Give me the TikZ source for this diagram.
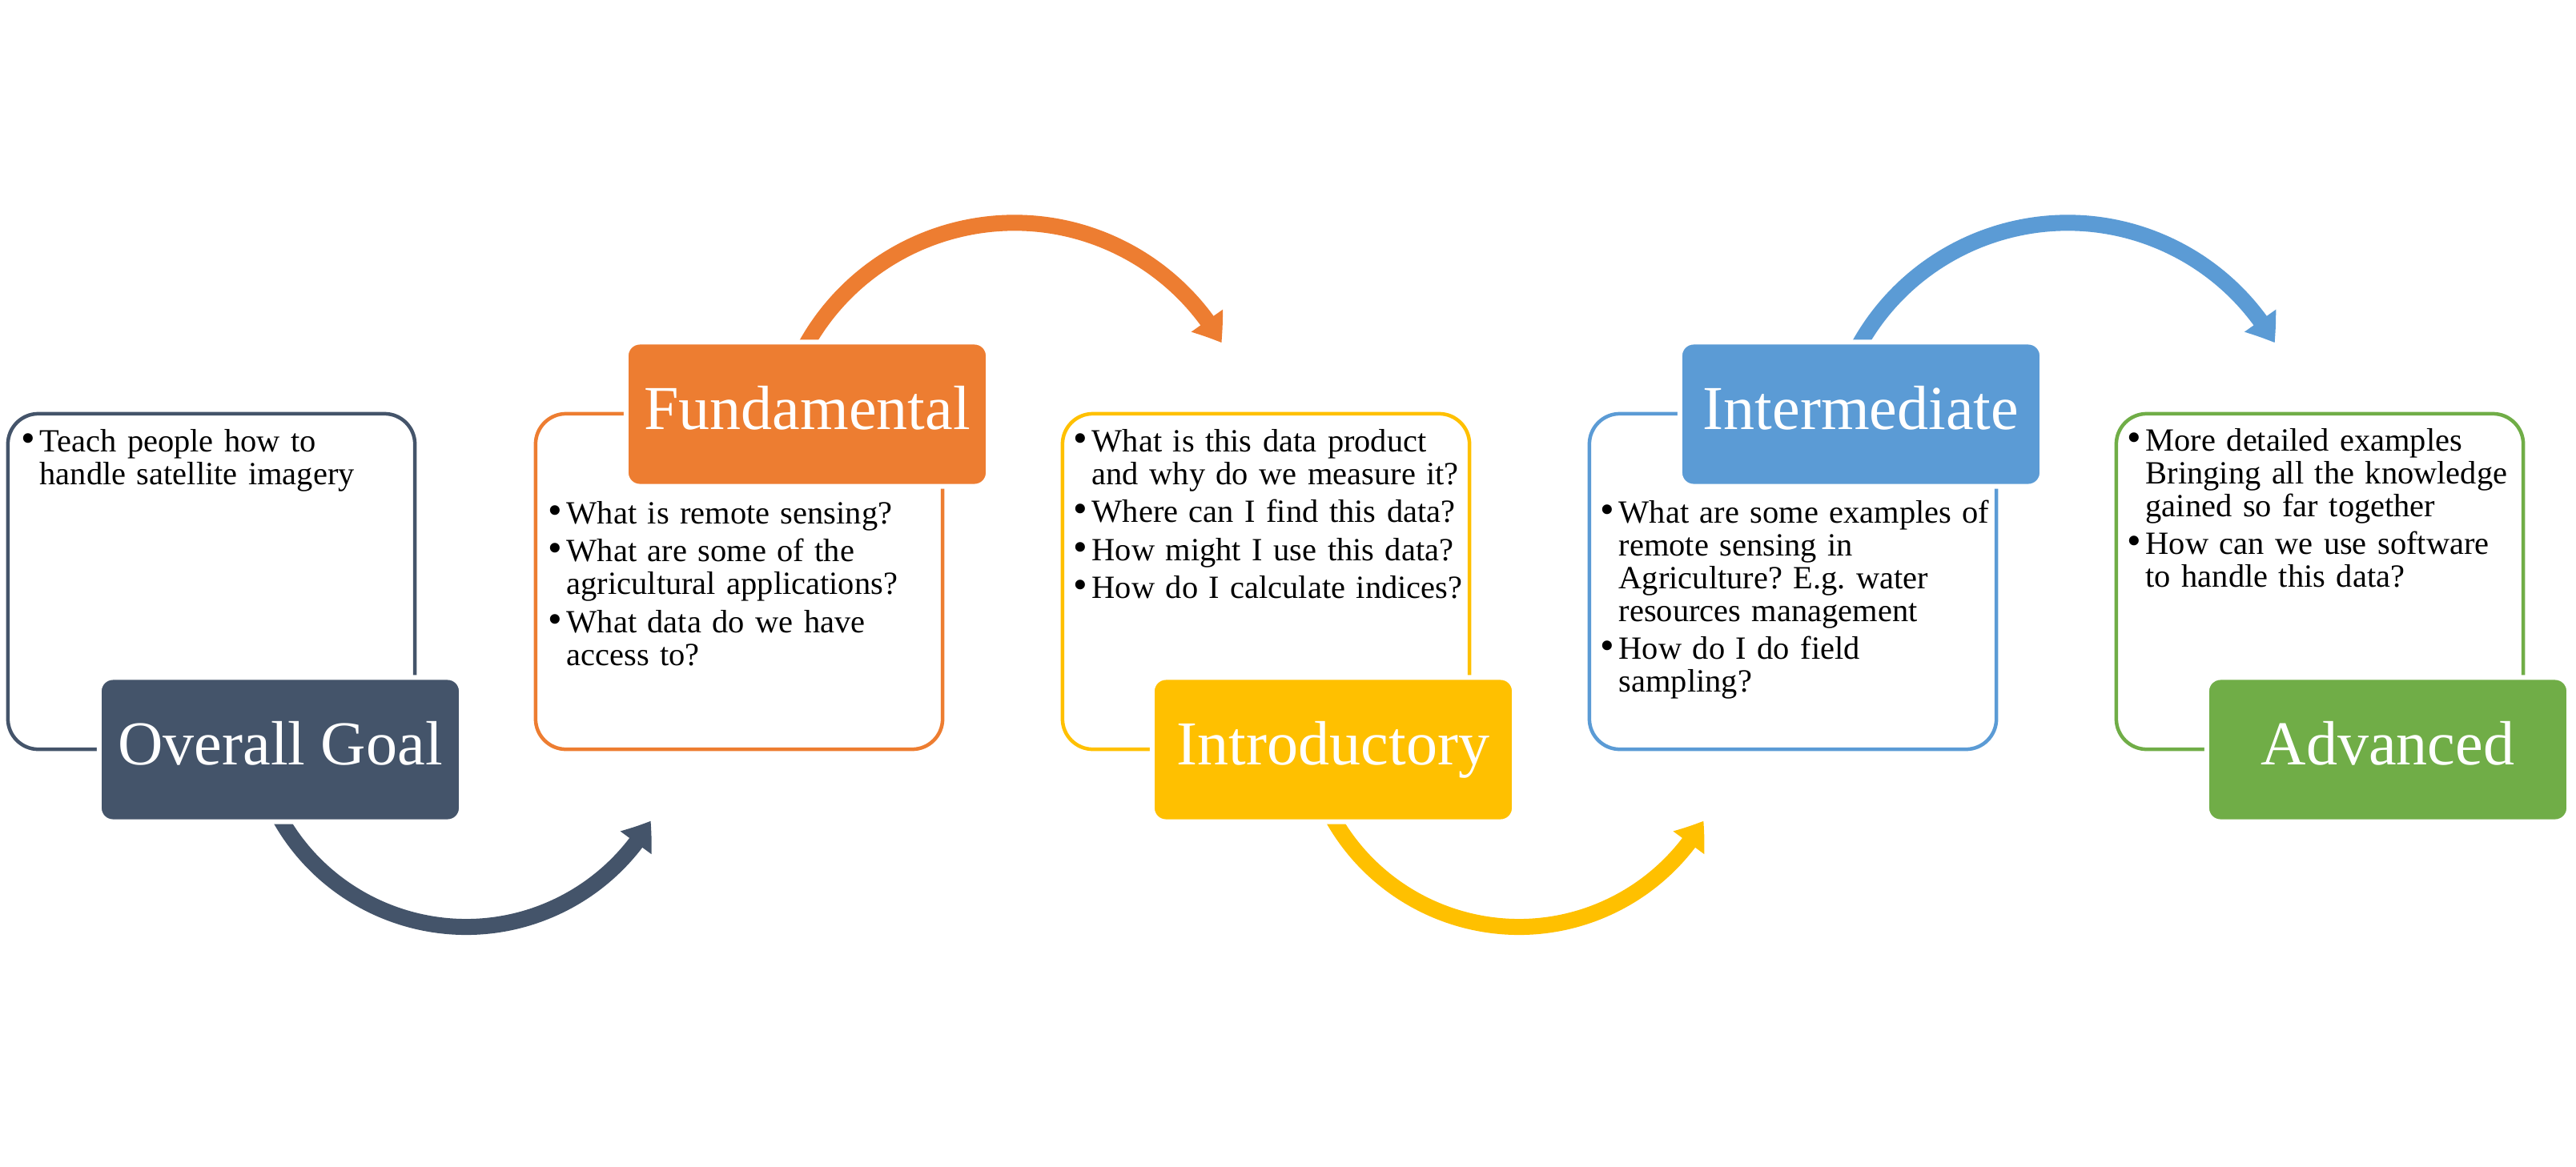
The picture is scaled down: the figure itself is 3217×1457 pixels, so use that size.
\documentclass[tikz,border=0pt]{standalone}
\usepackage{fontspec}
\setmainfont{Liberation Serif}
\usetikzlibrary{arrows.meta,bending}
\frenchspacing

\definecolor{cgoal}{HTML}{44546A}
\definecolor{cfund}{HTML}{ED7D31}
\definecolor{cintro}{HTML}{FFC000}
\definecolor{cinter}{HTML}{5B9BD5}
\definecolor{cadv}{HTML}{70AD47}

% hanging bullet at the start of a paragraph
\newcommand{\bmark}{\noindent\llap{\scalebox{1.25}{\textbullet}\hspace{1.5pt}}}
\newcommand{\bitem}{\par\bmark}

\tikzset{
  frame/.style={draw=#1, line width=0.045cm, rounded corners=0.38cm,
    minimum width=5.08cm, minimum height=4.19cm, inner sep=0pt},
  stage/.style={fill=#1, draw=white, line width=0.06cm, rounded corners=0.17cm,
    minimum width=4.52cm, minimum height=1.80cm, inner sep=0pt},
  title/.style={text=white, font=\fontsize{22.2pt}{26pt}\selectfont,
    anchor=base, inner sep=0pt},
  body/.style={anchor=base west, inner sep=0pt, text width=6cm, align=left,
    font=\fontsize{11.5pt}{11.67pt}\selectfont\setlength{\parskip}{1.85pt}},
  flow/.style={draw=#1, line width=0.2cm,
    -{Triangle[length=0.33cm, width=0.46cm, bend]}},
}

\begin{document}
\begin{tikzpicture}[x=0.01cm, y=-0.01cm]
\useasboundingbox (0,0) rectangle (3217,1457);

% outlined content panels
\node[frame=cgoal]  (fgoal)  at (264,726.5)  {};
\node[frame=cfund]  (ffund)  at (923,726.5)  {};
\node[frame=cintro] (fintro) at (1581,726.5) {};
\node[frame=cinter] (finter) at (2239,726.5) {};
\node[frame=cadv]   (fadv)   at (2897,726.5) {};

% curved connectors
\coordinate (c1) at (582,891.3);
\coordinate (c2) at (1266.8,576.4);
\coordinate (c3) at (1896.8,891.3);
\coordinate (c4) at (2582,576.4);
\draw[flow=cgoal]  (c1) ++(153:266.7) arc[start angle=153, end angle=30.2, radius=266.7];
\draw[flow=cfund]  (c2) ++(207:298)   arc[start angle=207, end angle=330.2, radius=298];
\draw[flow=cintro] (c3) ++(153:266.7) arc[start angle=153, end angle=30.2, radius=266.7];
\draw[flow=cinter] (c4) ++(207:298)   arc[start angle=207, end angle=330.2, radius=298];

% stage boxes
\node[stage=cgoal]  (goal)  at (350,936.5)  {};
\node[stage=cfund]  (fund)  at (1008,517.5) {};
\node[stage=cintro] (intro) at (1665,936.5) {};
\node[stage=cinter] (inter) at (2324,517.5) {};
\node[stage=cadv]   (adv)   at (2982,936.5) {};

\node[title] (tgoal)  at (350,955.5)  {Overall Goal};
\node[title] (tfund)  at (1008,536.5) {Fundamental};
\node[title] (tintro) at (1665,955.5) {Introductory};
\node[title] (tinter) at (2324,536.5) {Intermediate};
\node[title] (tadv)   at (2982,955.5) {Advanced};

% panel texts
\node[body] (bgoal) at (49,564) {\bmark Teach people how to\newline handle satellite imagery};
\node[body] (bfund) at (707,654) {\bmark What is remote sensing?
  \bitem What are some of the\newline agricultural applications?
  \bitem What data do we have\newline access to?};
\node[body] (bintro) at (1363,564) {\bmark What is this data product\newline and why do we measure it?
  \bitem Where can I find this data?
  \bitem How might I use this data?
  \bitem How do I calculate indices?};
\node[body] (binter) at (2021,653) {\bmark What are some examples of\newline remote sensing in\newline Agriculture? E.g. water\newline resources management
  \bitem How do I do field\newline sampling?};
\node[body] (badv) at (2679,563) {\bmark More detailed examples\newline Bringing all the knowledge\newline gained so far together
  \bitem How can we use software\newline to handle this data?};
\end{tikzpicture}
\end{document}
